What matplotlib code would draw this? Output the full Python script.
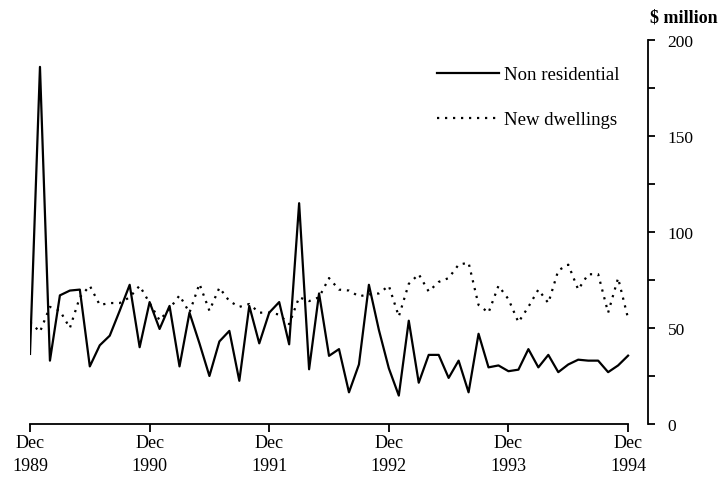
import matplotlib
matplotlib.use("Agg")
import matplotlib.pyplot as plt
import numpy as np

# Monthly data, Dec 1989 .. Dec 1994 ($ million)
non_residential = [36.5, 186, 33, 67, 69.5, 70, 30, 41, 46, 59, 72.5, 40, 63.5,
                   49.5, 61.5, 30, 58, 42, 25, 43, 48.5, 22.5, 61.5, 42, 58,
                   63.5, 41.5, 115, 28.5, 68, 35.5, 39, 16.5, 31, 72.5, 49, 29,
                   14.8, 53.8, 21.5, 36, 36, 24, 33, 16.5, 47, 29.5, 30.5, 27.5,
                   28.3, 39, 29.5, 36, 27, 31, 33.5, 33, 33, 27, 30.5, 35.6]
new_dwellings = [53, 48, 61, 59, 50, 66, 72, 62, 63, 63, 66, 72, 63,
                 54, 60, 67, 58, 73, 59, 71, 64, 61, 62.5, 58, 58,
                 57, 52, 66, 64, 66, 76, 70, 69.5, 66.5, 67.5, 68, 72,
                 56, 73, 78, 69, 74, 76, 83, 84, 62, 58, 72, 65,
                 53, 61, 70, 63, 80, 83, 70, 78, 78, 58, 76, 55]
tick_labels = ["Dec\n1989", "Dec\n1990", "Dec\n1991", "Dec\n1992", "Dec\n1993", "Dec\n1994"]
y_labels = [0, 50, 100, 150, 200]

W, H = 723, 481
fig = plt.figure(figsize=(W / 100, H / 100), dpi=100)
ax = fig.add_axes([30 / W, 1 - 425 / H, (648 - 30) / W, (425 - 41) / H])

serif = ["Liberation Serif", "DejaVu Serif"]

months = np.arange(len(non_residential))
ax.plot(months, non_residential, color="black", lw=1.6, label="Non residential")
ax.plot(months, new_dwellings, color="black", lw=1.6, linestyle=(0, (1, 2.6)),
        label="New dwellings")

ax.set_xlim(0, 62)
ax.set_ylim(0, 200)

for s in ["left", "top"]:
    ax.spines[s].set_visible(False)
ax.spines["bottom"].set_bounds(0, 60)
ax.spines["bottom"].set_linewidth(1.3)
ax.spines["right"].set_linewidth(1.3)

ax.set_xticks(np.arange(0, 61, 12))
ax.set_xticklabels(tick_labels, fontfamily=serif, fontsize=13, linespacing=1.45)
ax.tick_params(axis="x", direction="out", length=6, width=1.3, pad=1)

ax.yaxis.tick_right()
ax.set_yticks(y_labels)
ax.set_yticklabels([str(v) for v in y_labels], fontfamily=serif, fontsize=12.5)
ax.set_yticks(np.arange(25, 200, 50), minor=True)
ax.tick_params(axis="y", which="both", direction="out", length=5, width=1.3, pad=9)

fig.text(650 / W, 1 - 18 / H, "$ million", fontfamily=serif, fontsize=13,
         fontweight="bold", ha="left", va="center")

leg = ax.legend(loc="upper left", bbox_to_anchor=(437 / W, 1 - 67 / H),
                bbox_transform=fig.transFigure, frameon=False,
                handlelength=3.3, handletextpad=0.28, labelspacing=1.5,
                borderpad=0, borderaxespad=0,
                prop={"family": serif, "size": 13.5})

fig.savefig("out.png", dpi=100)
